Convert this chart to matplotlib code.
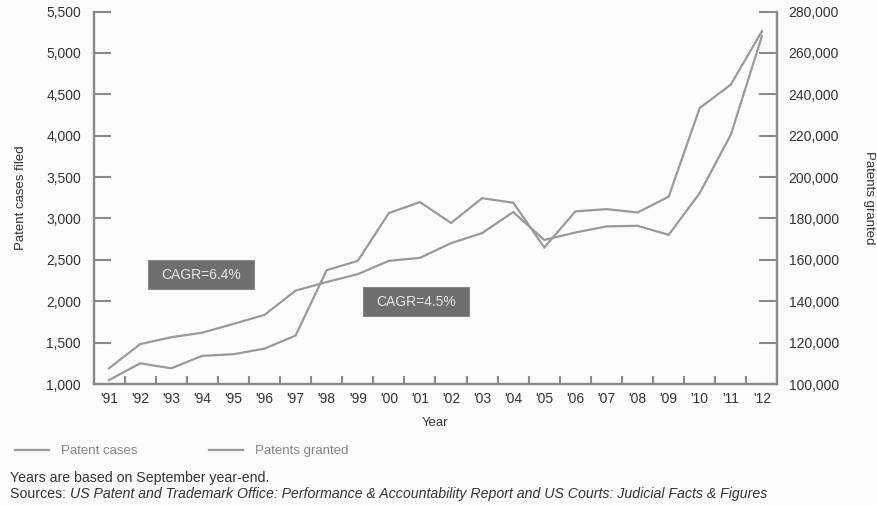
import matplotlib
matplotlib.use("Agg")
import matplotlib.pyplot as plt
from matplotlib.patches import Rectangle
from matplotlib.ticker import FixedLocator, FuncFormatter

plt.rcParams['font.family'] = ['Liberation Sans', 'DejaVu Sans']

# Fiscal years (September year-end)
years = ["'91", "'92", "'93", "'94", "'95", "'96", "'97", "'98", "'99", "'00", "'01",
         "'02", "'03", "'04", "'05", "'06", "'07", "'08", "'09", "'10", "'11", "'12"]

# Patent cases filed (left axis)
patent_cases = [1190, 1482, 1565, 1620, 1726, 1835, 2128, 2232, 2327, 2488, 2524,
                2702, 2823, 3077, 2740, 2830, 2904, 2911, 2802, 3307, 4012, 5202]

# Patents granted (right axis)
patents_granted = [101900, 110000, 107600, 113600, 114400, 117100, 123400, 155000,
                   159500, 182600, 187900, 177800, 189800, 187600, 166000, 183400,
                   184500, 182900, 190500, 233400, 244700, 270500]

cagr_labels = ["CAGR=6.4%", "CAGR=4.5%"]

LINE = '#9a9a9a'
AXIS = '#8a8a8a'
TXT = '#333333'
BG = '#fcfcfc'

fig = plt.figure(figsize=(8.78, 5.05), dpi=100, facecolor=BG)
ax = fig.add_axes([0.1065, 0.2396, 0.779, 0.7376])
ax.set_facecolor(BG)
ax2 = ax.twinx()

x = list(range(len(years)))
l1, = ax.plot(x, patent_cases, color=LINE, lw=1.6, solid_joinstyle='miter')
l2, = ax2.plot(x, patents_granted, color=LINE, lw=1.6, solid_joinstyle='miter')

ax.set_xlim(-0.5, len(years) - 0.5)
ax.set_ylim(1000, 5500)
ax2.set_ylim(100000, 280000)

ax.set_yticks(range(1000, 5501, 500))
ax.yaxis.set_major_formatter(FuncFormatter(lambda v, p: f"{int(v):,}"))
ax2.set_yticks(range(100000, 280001, 20000))
ax2.yaxis.set_major_formatter(FuncFormatter(lambda v, p: f"{int(v):,}"))

# Category labels at centres, tick marks between categories
ax.xaxis.set_major_locator(FixedLocator(x))
ax.set_xticklabels(years)
ax.xaxis.set_minor_locator(FixedLocator([i + 0.5 for i in range(len(years) - 1)]))
ax.tick_params(axis='x', which='major', length=0, pad=6, labelsize=10, labelcolor=TXT)
ax.tick_params(axis='x', which='minor', direction='in', length=6, width=1.5, color=AXIS)

ax.tick_params(axis='y', direction='in', length=12, width=1.5, color=AXIS,
               pad=9, labelsize=10, labelcolor=TXT)
ax2.tick_params(axis='y', direction='in', length=13, width=1.5, color=AXIS,
                pad=8, labelsize=10, labelcolor=TXT)

for a in (ax, ax2):
    a.spines['top'].set_visible(False)
    for s in ('left', 'right', 'bottom'):
        a.spines[s].set_color(AXIS)
        a.spines[s].set_linewidth(1.6)

ax.set_xlabel('Year', fontsize=9.5, color=TXT, labelpad=8)
ax.set_ylabel('Patent cases filed', fontsize=9.5, color=TXT, labelpad=14)
ax2.set_ylabel('Patents granted', fontsize=9.5, color=TXT, rotation=270, labelpad=26)

# CAGR callouts
for (cx, cy), lab in zip([(2.96, 2320), (9.87, 1992)], cagr_labels):
    w, h = 3.42, 350
    ax.add_patch(Rectangle((cx - w / 2, cy - h / 2), w, h, facecolor='#6f6f6f',
                           edgecolor='#8a8a8a', lw=0.8, zorder=4))
    ax.text(cx, cy, lab, ha='center', va='center', fontsize=10,
            color='#e6e6e6', zorder=5)

leg = fig.legend([l1, l2], ['Patent cases', 'Patents granted'], ncol=2,
                 loc='center left', bbox_to_anchor=(15 / 878, 1 - 451 / 505),
                 frameon=False, fontsize=9.5, handlelength=2.6, handletextpad=0.9,
                 columnspacing=5.4, borderpad=0, borderaxespad=0)
for t in leg.get_texts():
    t.set_color('#858585')

fig.text(10 / 878, 1 - 478 / 505, 'Years are based on September year-end.',
         fontsize=10.2, color='#333333', va='center', ha='left')
src = fig.text(10 / 878, 1 - 494 / 505, 'Sources: ', fontsize=10.2,
               color='#333333', va='center', ha='left')
fig.canvas.draw()
bb = src.get_window_extent(renderer=fig.canvas.get_renderer())
fig.text(bb.x1 / fig.bbox.width, 1 - 494 / 505,
         'US Patent and Trademark Office: Performance & Accountability Report '
         'and US Courts: Judicial Facts & Figures',
         fontsize=10.2, color='#333333', va='center', ha='left', style='italic')

fig.savefig('out.png', dpi=100, facecolor=BG)
